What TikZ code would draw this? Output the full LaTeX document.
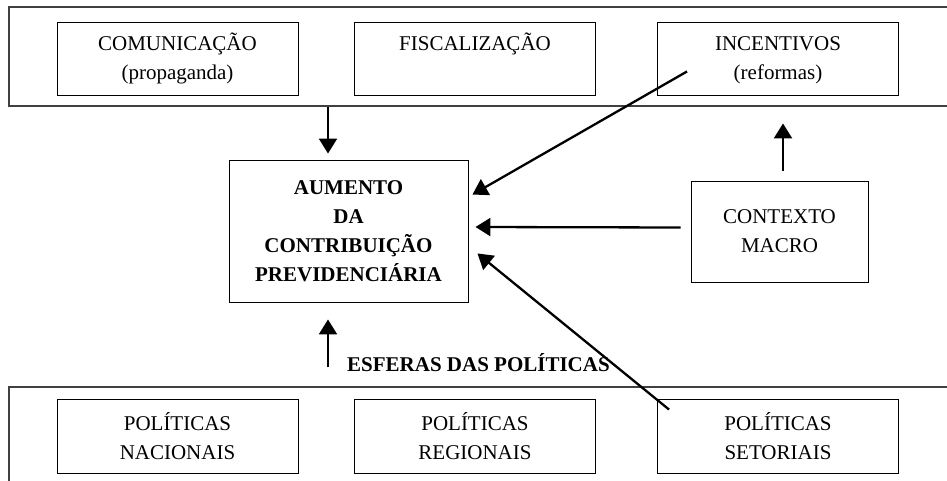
\documentclass[tikz,border=0pt]{standalone}
\usepackage{fontspec}
\setmainfont{Liberation Serif}
\usetikzlibrary{arrows.meta}

\begin{document}
\begin{tikzpicture}[x=1pt, y=-1pt,
	moldura/.style={draw=black!75, line width=1.2pt, inner sep=0pt},
	caixa/.style={draw, line width=0.9pt, inner sep=0pt, align=center,
		minimum width=241pt, minimum height=73pt,
		font=\fontsize{21}{29}\selectfont},
	seta/.style={line width=2.3pt, -{Triangle[length=15pt,width=18pt]}}]
	\useasboundingbox (0,0) rectangle (947,481);
	\clip (0,0) rectangle (947,481);

	% Frames
	\node[moldura, minimum width=951pt, minimum height=99pt] (acoes) at (484.5,56.5) {};
	\node[moldura, minimum width=951pt, minimum height=113pt] (politicas) at (484.5,443.5) {};

	% Top row
	\node[caixa] (comunicacao) at (177.5,58.5) {COMUNICAÇÃO\\(propaganda)};
	\node[caixa] (fiscalizacao) at (475,58.5) {FISCALIZAÇÃO\\\phantom{(propaganda)}};
	\node[caixa] (incentivos) at (778,58.5) {INCENTIVOS\vphantom{Ã}\\(reformas)};

	% Middle
	\node[caixa, minimum width=239pt, minimum height=142pt, font=\fontsize{21}{29}\selectfont\bfseries]
		(aumento) at (348.5,231) {AUMENTO\\DA\\CONTRIBUIÇÃO\\PREVIDENCIÁRIA};
	\node[caixa, minimum width=177pt, minimum height=101pt] (contexto) at (779.5,231.5) {CONTEXTO\\MACRO};

	% Bottom row
	\node[caixa, minimum height=74pt] (nacionais) at (177.5,436) {POLÍTICAS\\NACIONAIS};
	\node[caixa, minimum height=74pt] (regionais) at (475,436) {POLÍTICAS\\REGIONAIS};
	\node[caixa, minimum height=74pt] (setoriais) at (778,436) {POLÍTICAS\\SETORIAIS};

	\node[anchor=base west, inner sep=0pt, font=\fontsize{21}{29}\selectfont\bfseries]
		(esferas) at (347,371) {ESFERAS DAS POLÍTICAS};

	% Arrows
	\coordinate (t1) at ([xshift=-20.5pt,yshift=6pt]aumento.north);
	\draw[seta] (t1 |- acoes.south) -- (t1);

	\coordinate (t2) at ([xshift=-20.5pt,yshift=-17pt]aumento.south);
	\coordinate (b2) at ([yshift=19pt]politicas.north);
	\draw[seta] (t2 |- b2) -- (t2);

	\draw[seta] ([xshift=3.5pt,yshift=10pt]contexto.north) -- ([xshift=5pt,yshift=-28pt]incentivos.south);
	\draw[seta] ([shift={(30pt,24pt)}]incentivos.south west) -- ([shift={(4pt,-35pt)}]aumento.north east);
	\draw[seta] ([xshift=-10pt,yshift=4pt]contexto.west) -- ([xshift=7pt,yshift=4pt]aumento.east);
	\draw[seta] ([shift={(12pt,-11pt)}]setoriais.north west) -- ([shift={(9pt,49pt)}]aumento.south east);
\end{tikzpicture}
\end{document}
